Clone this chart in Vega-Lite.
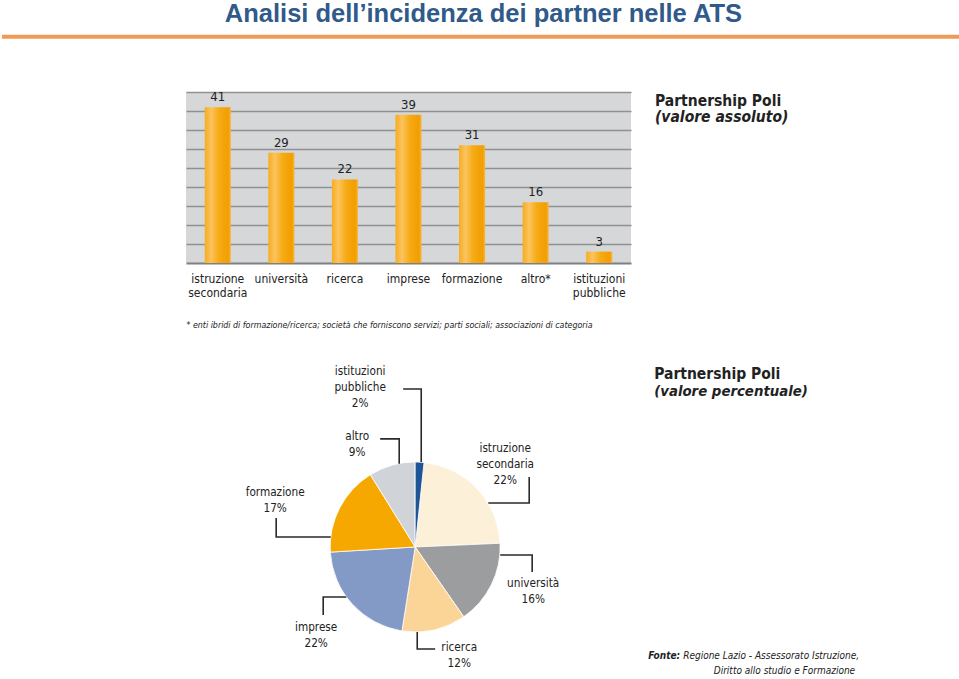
{
  "$schema": "https://vega.github.io/schema/vega-lite/v6.json",
  "padding": 0,
  "background": "white",
  "spacing": 0,
  "config": {
    "view": {"stroke": null},
    "font": "DejaVu Sans Condensed, DejaVu Sans, sans-serif",
    "text": {"font": "DejaVu Sans Condensed, DejaVu Sans, sans-serif", "color": "#222222"}
  },
  "datasets": {
    "partner": [
      {"cat": "istruzione secondaria", "n": 41, "i": 1},
      {"cat": "università", "n": 29, "i": 2},
      {"cat": "ricerca", "n": 22, "i": 3},
      {"cat": "imprese", "n": 39, "i": 4},
      {"cat": "formazione", "n": 31, "i": 5},
      {"cat": "altro*", "n": 16, "i": 6},
      {"cat": "istituzioni pubbliche", "n": 3, "i": 7}
    ],
    "callouts": [
      {"cat": "istituzioni pubbliche", "label": "istituzioni\npubbliche\n2%", "u": -64.7, "v": 207.0},
      {"cat": "altro*", "label": "altro\n9%", "u": -68.2, "v": 130.0},
      {"cat": "istruzione secondaria", "label": "istruzione\nsecondaria\n22%", "u": 105.9, "v": 116.4},
      {"cat": "università", "label": "università\n16%", "u": 138.8, "v": -41.8},
      {"cat": "ricerca", "label": "ricerca\n12%", "u": 51.8, "v": -117.7},
      {"cat": "imprese", "label": "imprese\n22%", "u": -116.5, "v": -94.1},
      {"cat": "formazione", "label": "formazione\n17%", "u": -164.7, "v": 64.7}
    ],
    "leaders": [
      {"cat": "istituzioni pubbliche", "p": 1, "u": -14.1, "v": 185.9},
      {"cat": "istituzioni pubbliche", "p": 2, "u": 7.1, "v": 185.9},
      {"cat": "istituzioni pubbliche", "p": 3, "u": 7.1, "v": 100},
      {"cat": "altro*", "p": 1, "u": -41.2, "v": 127.1},
      {"cat": "altro*", "p": 2, "u": -18.8, "v": 127.1},
      {"cat": "altro*", "p": 3, "u": -18.8, "v": 98},
      {"cat": "istruzione secondaria", "p": 1, "u": 134.1, "v": 82.4},
      {"cat": "istruzione secondaria", "p": 2, "u": 134.1, "v": 51.8},
      {"cat": "istruzione secondaria", "p": 3, "u": 86, "v": 51.8},
      {"cat": "università", "p": 1, "u": 100, "v": -9.4},
      {"cat": "università", "p": 2, "u": 137.6, "v": -9.4},
      {"cat": "università", "p": 3, "u": 137.6, "v": -29.4},
      {"cat": "ricerca", "p": 1, "u": 2.4, "v": -100},
      {"cat": "ricerca", "p": 2, "u": 2.4, "v": -120},
      {"cat": "ricerca", "p": 3, "u": 23.5, "v": -120},
      {"cat": "imprese", "p": 1, "u": -81, "v": -58.8},
      {"cat": "imprese", "p": 2, "u": -108.2, "v": -58.8},
      {"cat": "imprese", "p": 3, "u": -108.2, "v": -80},
      {"cat": "formazione", "p": 1, "u": -163.5, "v": 34.1},
      {"cat": "formazione", "p": 2, "u": -163.5, "v": 11.8},
      {"cat": "formazione", "p": 3, "u": -99.3, "v": 11.8}
    ]
  },
  "vconcat": [
    {
      "width": 959,
      "height": 91,
      "data": {"values": [{"t": "Analisi dell’incidenza dei partner nelle ATS"}]},
      "layer": [
        {
          "mark": {"type": "text", "font": "Liberation Sans, Arial, sans-serif", "fontWeight": "bold", "fontSize": 25.5, "color": "#2F5A8A", "baseline": "middle", "align": "center"},
          "encoding": {
            "text": {"field": "t"},
            "x": {"datum": 0.502, "type": "quantitative", "scale": {"domain": [0, 1], "nice": false, "zero": false}, "axis": null},
            "y": {"datum": 0.158, "type": "quantitative", "scale": {"domain": [0, 1], "reverse": true, "nice": false, "zero": false}, "axis": null}
          }
        },
        {
          "mark": {"type": "rule", "color": "#EF9A57", "strokeWidth": 4},
          "encoding": {
            "x": {"datum": 0, "type": "quantitative", "scale": {"domain": [0, 1], "nice": false, "zero": false}, "axis": null},
            "x2": {"datum": 1},
            "y": {"datum": 0.403, "type": "quantitative", "scale": {"domain": [0, 1], "reverse": true, "nice": false, "zero": false}, "axis": null}
          }
        }
      ]
    },
    {
      "spacing": 24,
      "hconcat": [
        {
          "width": 160,
          "height": 171,
          "data": {"values": []},
          "mark": "point"
        },
        {
          "width": 445,
          "height": 171,
          "view": {"fill": "#D6D7D9", "stroke": null},
          "data": {"name": "partner"},
          "encoding": {
            "x": {
              "field": "cat",
              "type": "nominal",
              "sort": {"field": "i", "op": "min"},
              "scale": {"paddingInner": 0.59, "paddingOuter": 0.295},
              "title": "*  enti ibridi di formazione/ricerca; società che forniscono servizi; parti sociali; associazioni di categoria",
              "axis": {
                "labelExpr": "split(datum.label, ' ')",
                "labelAngle": 0,
                "labelFontSize": 12,
                "labelColor": "#222222",
                "labelPadding": 10,
                "labelLineHeight": 14,
                "labelBaseline": "top",
                "ticks": false,
                "domainColor": "#7E8083",
                "domainWidth": 2,
                "titleFontSize": 8.8,
                "titleFontStyle": "italic",
                "titleFontWeight": "normal",
                "titleColor": "#222222",
                "titleAnchor": "start",
                "titleAlign": "left",
                "titlePadding": 22
              }
            },
            "y": {
              "field": "n",
              "type": "quantitative",
              "scale": {"domain": [0, 45], "nice": false},
              "axis": {"grid": true, "values": [5, 10, 15, 20, 25, 30, 35, 40, 45], "labels": false, "ticks": false, "domain": false, "title": null, "gridColor": "#8F9194", "gridWidth": 1.5}
            }
          },
          "layer": [
            {
              "mark": {
                "type": "bar",
                "color": {
                  "gradient": "linear", "x1": 0, "x2": 1, "y1": 0, "y2": 0,
                  "stops": [
                    {"offset": 0, "color": "#F6AC1E"},
                    {"offset": 0.25, "color": "#FCC45E"},
                    {"offset": 0.55, "color": "#F6AA14"},
                    {"offset": 0.9, "color": "#F29E00"},
                    {"offset": 1, "color": "#F7B540"}
                  ]
                }
              }
            },
            {
              "mark": {"type": "text", "baseline": "bottom", "dy": -3, "fontSize": 13, "color": "#222222"},
              "encoding": {"text": {"field": "n", "type": "quantitative"}}
            }
          ]
        },
        {
          "width": 280,
          "height": 171,
          "layer": [
            {
              "data": {"values": [{"t": "Partnership Poli", "v": 0.05}]},
              "mark": {"type": "text", "align": "left", "baseline": "middle", "fontWeight": "bold", "fontSize": 15.5, "color": "#222222"},
              "encoding": {
                "text": {"field": "t"},
                "x": {"datum": 0, "type": "quantitative", "scale": {"domain": [0, 1], "nice": false}, "axis": null},
                "y": {"field": "v", "type": "quantitative", "scale": {"domain": [0, 1], "reverse": true, "nice": false, "zero": false}, "axis": null}
              }
            },
            {
              "data": {"values": [{"t": "(valore assoluto)", "v": 0.148}]},
              "mark": {"type": "text", "align": "left", "baseline": "middle", "fontWeight": "bold", "fontStyle": "italic", "fontSize": 15.5, "color": "#222222"},
              "encoding": {
                "text": {"field": "t"},
                "x": {"datum": 0, "type": "quantitative", "scale": {"domain": [0, 1], "nice": false}, "axis": null},
                "y": {"field": "v", "type": "quantitative", "scale": {"domain": [0, 1], "reverse": true, "nice": false, "zero": false}, "axis": null}
              }
            }
          ]
        }
      ]
    },
    {
      "width": 959,
      "height": 350,
      "layer": [
        {
          "data": {"name": "partner"},
          "transform": [{"stack": "n", "groupby": [], "sort": [{"field": "i", "order": "ascending"}], "as": ["t0", "t1"]}],
          "mark": {"type": "arc", "outerRadius": 85, "stroke": "white", "strokeWidth": 0.8},
          "encoding": {
            "x": {"datum": 0, "type": "quantitative", "stack": null, "scale": {"domain": [-486, 642], "nice": false, "zero": false}, "axis": null},
            "y": {"datum": 0, "type": "quantitative", "stack": null, "scale": {"domain": [-155.3, 256.4], "nice": false, "zero": false}, "axis": null},
            "theta": {"field": "t0", "type": "quantitative", "scale": {"domain": [0, 181], "range": [0.10414, 6.38733], "zero": false, "nice": false}},
            "theta2": {"field": "t1"},
            "color": {
              "field": "cat",
              "type": "nominal",
              "scale": {
                "domain": ["istruzione secondaria", "università", "ricerca", "imprese", "formazione", "altro*", "istituzioni pubbliche"],
                "range": ["#FDF0D8", "#9C9D9F", "#FBD597", "#8399C6", "#F6A800", "#D0D3D8", "#1D5597"]
              },
              "legend": null
            }
          }
        },
        {
          "data": {"name": "leaders"},
          "mark": {"type": "line", "color": "#2A2A2A", "strokeWidth": 1.6},
          "encoding": {
            "x": {"field": "u", "type": "quantitative", "scale": {"domain": [-486, 642], "nice": false, "zero": false}, "axis": null},
            "y": {"field": "v", "type": "quantitative", "scale": {"domain": [-155.3, 256.4], "nice": false, "zero": false}, "axis": null},
            "detail": {"field": "cat"},
            "order": {"field": "p"}
          }
        },
        {
          "data": {"name": "callouts"},
          "mark": {"type": "text", "lineBreak": "\n", "lineHeight": 16, "fontSize": 11.7, "align": "center", "baseline": "middle", "color": "#222222"},
          "encoding": {
            "x": {"field": "u", "type": "quantitative", "scale": {"domain": [-486, 642], "nice": false, "zero": false}, "axis": null},
            "y": {"field": "v", "type": "quantitative", "scale": {"domain": [-155.3, 256.4], "nice": false, "zero": false}, "axis": null},
            "text": {"field": "label"}
          }
        },
        {
          "data": {"values": [{"t": "Partnership Poli", "u": 281.1, "v": 203.5}]},
          "mark": {"type": "text", "align": "left", "baseline": "middle", "fontWeight": "bold", "fontSize": 15.5, "color": "#222222"},
          "encoding": {
            "x": {"field": "u", "type": "quantitative", "scale": {"domain": [-486, 642], "nice": false, "zero": false}, "axis": null},
            "y": {"field": "v", "type": "quantitative", "scale": {"domain": [-155.3, 256.4], "nice": false, "zero": false}, "axis": null},
            "text": {"field": "t"}
          }
        },
        {
          "data": {"values": [{"t": "(valore percentuale)", "u": 281.1, "v": 182.4}]},
          "mark": {"type": "text", "align": "left", "baseline": "middle", "fontWeight": "bold", "fontStyle": "italic", "fontSize": 14.8, "color": "#222222"},
          "encoding": {
            "x": {"field": "u", "type": "quantitative", "scale": {"domain": [-486, 642], "nice": false, "zero": false}, "axis": null},
            "y": {"field": "v", "type": "quantitative", "scale": {"domain": [-155.3, 256.4], "nice": false, "zero": false}, "axis": null},
            "text": {"field": "t"}
          }
        },
        {
          "data": {"values": [{"t": "Fonte:", "u": 311.7, "v": -128.2}]},
          "mark": {"type": "text", "align": "right", "baseline": "middle", "fontWeight": "bold", "fontStyle": "italic", "fontSize": 10, "color": "#222222"},
          "encoding": {
            "x": {"field": "u", "type": "quantitative", "scale": {"domain": [-486, 642], "nice": false, "zero": false}, "axis": null},
            "y": {"field": "v", "type": "quantitative", "scale": {"domain": [-155.3, 256.4], "nice": false, "zero": false}, "axis": null},
            "text": {"field": "t"}
          }
        },
        {
          "data": {"values": [{"t": "Regione Lazio - Assessorato Istruzione,", "u": 315.2, "v": -128.2}]},
          "mark": {"type": "text", "align": "left", "baseline": "middle", "fontStyle": "italic", "fontSize": 10, "color": "#222222"},
          "encoding": {
            "x": {"field": "u", "type": "quantitative", "scale": {"domain": [-486, 642], "nice": false, "zero": false}, "axis": null},
            "y": {"field": "v", "type": "quantitative", "scale": {"domain": [-155.3, 256.4], "nice": false, "zero": false}, "axis": null},
            "text": {"field": "t"}
          }
        },
        {
          "data": {"values": [{"t": "Diritto allo studio e Formazione", "u": 517.5, "v": -145.9}]},
          "mark": {"type": "text", "align": "right", "baseline": "middle", "fontStyle": "italic", "fontSize": 10, "color": "#222222"},
          "encoding": {
            "x": {"field": "u", "type": "quantitative", "scale": {"domain": [-486, 642], "nice": false, "zero": false}, "axis": null},
            "y": {"field": "v", "type": "quantitative", "scale": {"domain": [-155.3, 256.4], "nice": false, "zero": false}, "axis": null},
            "text": {"field": "t"}
          }
        }
      ]
    }
  ]
}
